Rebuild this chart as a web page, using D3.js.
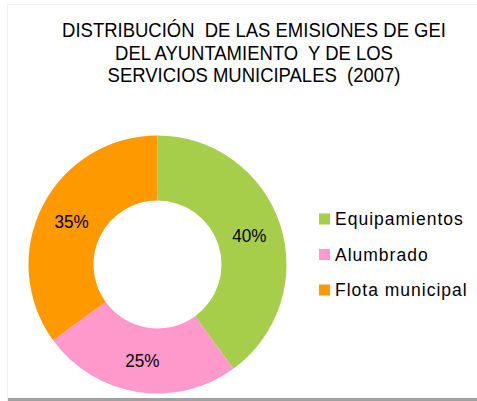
<!DOCTYPE html>
<html>
<head>
<meta charset="utf-8">
<script src="https://cdn.jsdelivr.net/npm/d3@7"></script>
<style>
  body { margin: 0; background: #fff; }
  svg text { font-family: "Liberation Sans", Arial, sans-serif; fill: #000; white-space: pre; }
</style>
</head>
<body>
<svg width="477" height="401"></svg>
<script>
// data
var categories = ["Equipamientos", "Alumbrado", "Flota municipal"];
var values = [40, 25, 35];
var colours = ["#a6ce4b", "#ff99cc", "#ff9900"];
var titleLines = ["DISTRIBUCIÓN  DE LAS EMISIONES DE GEI", "DEL AYUNTAMIENTO  Y DE LOS", "SERVICIOS MUNICIPALES  (2007)"];

var svg = d3.select("svg"),
    width = +svg.attr("width"),
    height = +svg.attr("height");

//chart frame with a soft shadow
svg.append("rect")
    .attr("x", 7).attr("y", 4)
    .attr("width", width).attr("height", 397)
    .attr("fill", "#f0f0f0");
svg.append("rect")
    .attr("x", 8).attr("y", 398)
    .attr("width", width).attr("height", 3)
    .attr("fill", "#a0a0a0");
svg.append("rect")
    .attr("x", 8).attr("y", 5)
    .attr("width", width).attr("height", 393)
    .attr("fill", "#fff");

//title (squeezed a bit to mimic the narrow font)
svg.append("g")
    .attr("transform", "translate(254,0) scale(0.88,1)")
  .selectAll("text")
    .data(titleLines)
    .enter().append("text")
      .attr("x", 0)
      .attr("y", function (d, i) { return 37.5 + i * 22.5; })
      .attr("text-anchor", "middle")
      .style("font-size", "21px")
      .text(function (d) { return d; });

//donut
var cx = 157.5, cy = 264.5, outer = 129, inner = 64;

var pie = d3.pie().sort(null).value(function (d) { return d; });
var arc = d3.arc().innerRadius(inner).outerRadius(outer);
var total = d3.sum(values);

var g = svg.append("g").attr("transform", "translate(" + cx + "," + cy + ")");

var slices = g.selectAll("g.slice")
    .data(pie(values))
    .enter().append("g")
      .attr("class", "slice");

slices.append("path")
    .attr("d", arc)
    .attr("fill", function (d, i) { return colours[i]; });

slices.append("text")
    .attr("transform", function (d) { return "translate(" + arc.centroid(d) + ") scale(0.9,1)"; })
    .attr("text-anchor", "middle")
    .attr("dy", "0.36em")
    .style("font-size", "19px")
    .text(function (d) { return Math.round(d.value / total * 100) + "%"; });

//legend
var legend = svg.append("g")
    .selectAll("g")
    .data(categories)
    .enter().append("g")
      .attr("transform", function (d, i) { return "translate(319," + (219 + i * 35.5) + ")"; });

legend.append("rect")
    .attr("x", 0).attr("y", -5.5)
    .attr("width", 11).attr("height", 11)
    .attr("fill", function (d, i) { return colours[i]; });

legend.append("text")
    .attr("x", 16)
    .attr("dy", "0.36em")
    .style("font-size", "17.5px")
    .style("letter-spacing", "1px")
    .text(function (d) { return d; });
</script>
</body>
</html>
